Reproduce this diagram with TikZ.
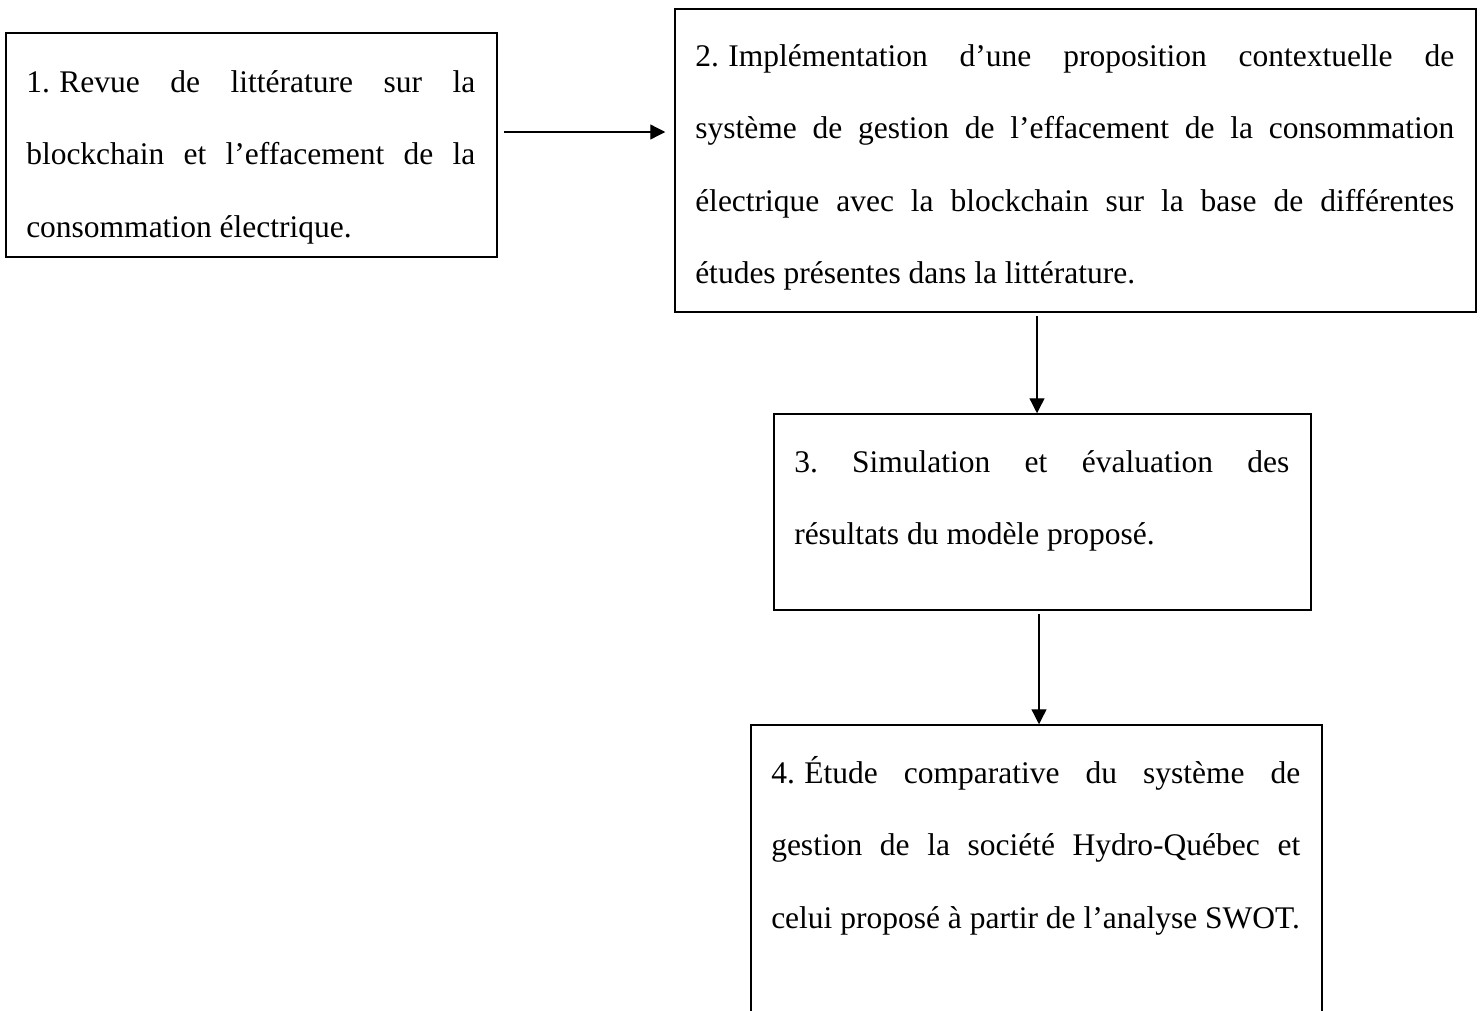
\documentclass[tikz,border=0pt]{standalone}
\usepackage{fontspec}
\setmainfont{Liberation Serif}
\usetikzlibrary{arrows.meta}
\frenchspacing

% one justified line of fixed width, and a ragged last line
\newcommand\jline[2]{\hbox{\makebox[#1][s]{#2}}}
\newcommand\lline[2]{\hbox{\makebox[#1][l]{#2}}}
% list number followed by a fixed, non-stretching gap
\newcommand\num[1]{#1.\kern0.3em}
% stack of lines whose baseline is the first line's baseline
\newcommand\linestack[1]{\vtop{\baselineskip=72.5pt\lineskiplimit=-100pt\lineskip=0pt #1}}

\begin{document}
\begin{tikzpicture}[x=1pt,y=-1pt,
  stepbox/.style={draw=black, line width=1.5pt, rectangle, inner sep=0pt},
  steptext/.style={inner sep=0pt, outer sep=0pt, anchor=base west,
    font=\fontsize{31.5}{72.5}\selectfont\frenchspacing},
  flow/.style={draw=black, line width=1.3pt, -{Triangle[length=15pt,width=15pt]}}]

\useasboundingbox (0,0) rectangle (1482,1010);
\clip (0,0) rectangle (1482,1010);

% step boxes
\node[stepbox, minimum width=491pt, minimum height=224pt] (b1) at (251.5,145) {};
\node[stepbox, minimum width=801pt, minimum height=303pt] (b2) at (1075.5,160.5) {};
\node[stepbox, minimum width=537pt, minimum height=196pt] (b3) at (1042.5,512) {};
\node[stepbox, minimum width=571pt, minimum height=330pt] (b4) at (1036.5,890) {};

% step texts
\node[steptext] (t1) at ([shift={(21,60)}]b1.north west) {\linestack{%
  \jline{449pt}{\num{1}Revue de littérature sur la}
  \jline{449pt}{blockchain et l’effacement de la}
  \lline{449pt}{consommation électrique.}}};

\node[steptext] (t2) at ([shift={(21,58)}]b2.north west) {\linestack{%
  \jline{759pt}{\num{2}Implémentation d’une proposition contextuelle de}
  \jline{759pt}{système de gestion de l’effacement de la consommation}
  \jline{759pt}{électrique avec la blockchain sur la base de différentes}
  \lline{759pt}{études présentes dans la littérature.}}};

\node[steptext] (t3) at ([shift={(21,59)}]b3.north west) {\linestack{%
  \jline{495pt}{3. Simulation et évaluation des}
  \lline{495pt}{résultats du modèle proposé.}}};

\node[steptext] (t4) at ([shift={(21,59)}]b4.north west) {\linestack{%
  \jline{529pt}{\num{4}Étude comparative du système de}
  \jline{529pt}{gestion de la société Hydro-Québec et}
  \lline{529pt}{celui proposé à partir de l’analyse SWOT.}}};

% connectors
\path (b1.east) ++(0,-13) coordinate (a1);
\draw[flow, shorten <=6pt, shorten >=9pt] (a1) -- (a1 -| b2.west);

\path (b3.north) ++(-5.5,0) coordinate (a2);
\draw[flow, shorten <=3pt] (a2 |- b2.south) -- (a2);

\path (b4.north) ++(2.5,0) coordinate (a3);
\draw[flow, shorten <=3pt] (a3 |- b3.south) -- (a3);

\end{tikzpicture}
\end{document}
